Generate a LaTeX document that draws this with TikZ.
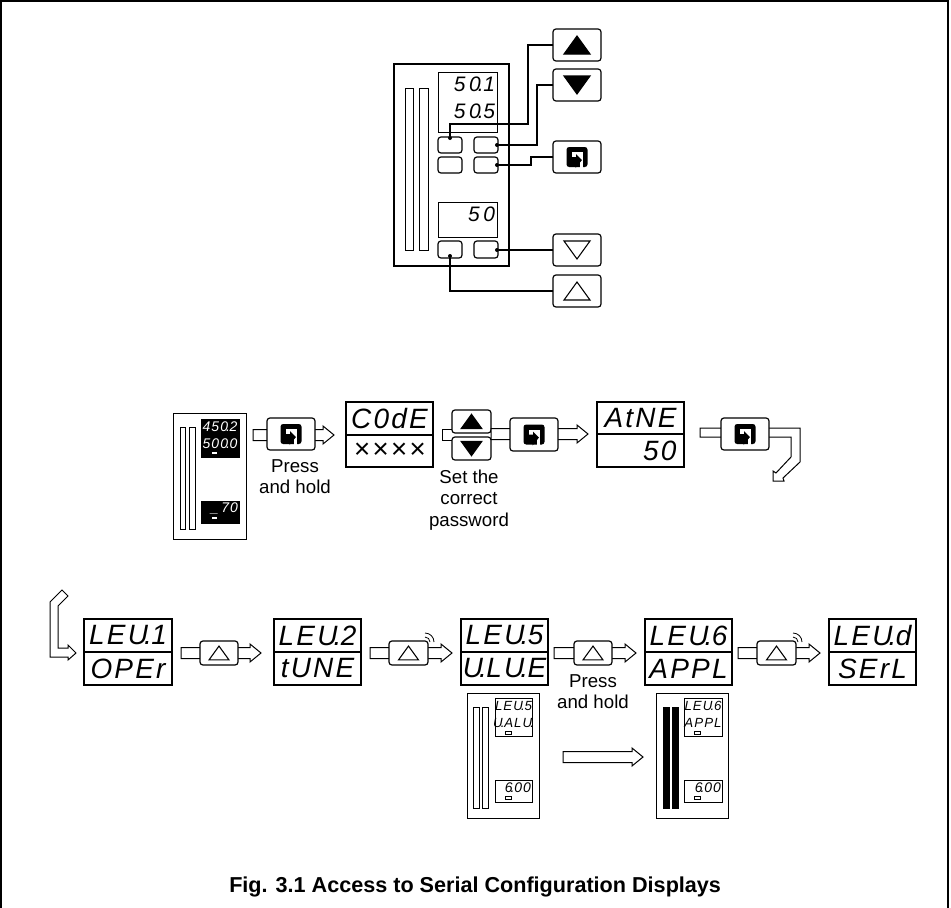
\documentclass[tikz,border=0pt]{standalone}
\usepackage{fontspec}
\setmainfont{Liberation Sans}
\newfontfamily\segf[LetterSpace=8]{Liberation Sans}
\newfontfamily\segw[LetterSpace=17]{Liberation Sans}
\usetikzlibrary{calc}
\newcommand{\dt}{\makebox[0pt]{.}\kern.12em}
% #1 = digit height in px
\newcommand{\sg}[2]{{\pgfmathsetmacro{\fs}{#1*1.0475}\fontsize{\fs pt}{\fs pt}\selectfont\segf\itshape #2}}
\newcommand{\sw}[2]{{\pgfmathsetmacro{\fs}{#1*1.0475}\fontsize{\fs pt}{\fs pt}\selectfont\segw\itshape #2}}
\newcommand{\bx}[6]{\node[#2,minimum width={(#5-#3)*0.75pt},minimum height={(#6-#4)*0.75pt}] (#1) at ({(#3+#5)/2},{(#4+#6)/2}) {};}
\newcommand{\harrow}[4]{% name, x0, x1, y : hollow straight arrow between named ends
  \coordinate (#1s) at (#2,#4);\coordinate (#1t) at (#3,#4);
  \draw[hollow] ($(#1s)+(0,-5.5)$) -- ($(#1t)+(-11,-5.5)$) -- ($(#1t)+(-11,-9)$) -- (#1t) -- ($(#1t)+(-11,9)$) -- ($(#1t)+(-11,5.5)$) -- ($(#1s)+(0,5.5)$) -- cycle;}
\newcommand{\waves}[1]{\coordinate (#1w) at ($(#1.north east)+(-3,1)$);
  \draw[wave] (#1w) ++(5,0) arc[start angle=0,end angle=-90,radius=5];
  \draw[wave] (#1w) ++(9,0) arc[start angle=0,end angle=-90,radius=9];}
\tikzset{
 x=0.75pt,y=-0.75pt,
 keybox/.style={draw,line width=0.9pt,rounded corners=2.2pt,fill=white,inner sep=0pt,outer sep=0pt},
 btn/.style={keybox},
 panel/.style={draw,line width=1.6pt,fill=white,inner sep=0pt,outer sep=0pt},
 minipanel/.style={draw,line width=0.6pt,fill=white,inner sep=0pt,outer sep=0pt},
 bar/.style={draw,line width=0.6pt,fill=white,inner sep=0pt,outer sep=0pt},
 barblack/.style={draw,fill=black,inner sep=0pt,outer sep=0pt},
 lcd/.style={draw,line width=0.6pt,fill=white,inner sep=0pt,outer sep=0pt},
 lcdblack/.style={draw,fill=black,inner sep=0pt,outer sep=0pt},
 disp/.style={draw,line width=1.7pt,fill=white,inner sep=0pt,outer sep=0pt},
 hollow/.style={draw,line width=0.75pt,fill=white,line join=miter},
 wave/.style={line width=0.6pt},
 conn/.style={line width=0.8pt},
 dot/.style={circle,fill=black,inner sep=0pt,minimum size=3pt},
 txt/.style={inner sep=0pt,align=center,font=\fontsize{14pt}{16pt}\selectfont},
 dtxt/.style={inner sep=0pt,outer sep=0pt},
 triblack/.style={draw,line width=0.8pt,fill=black},
 triwhite/.style={draw,line width=0.8pt,fill=white},
 pics/triup/.style={code={\path[pic actions] (-13,9)--(0,-9)--(13,9)--cycle;}},
 pics/tridown/.style={code={\path[pic actions] (-13,-9)--(0,9)--(13,-9)--cycle;}},
 pics/paraicon/.style={code={
   \fill[rounded corners=2pt] (-10.5,-10) rectangle (10.5,10);
   \fill[white] (-5.5,-5) rectangle (5.5,3.5);
   \fill[white] (2.5,3) rectangle (6,10.5);
   \fill (-6,0) -- (-1,0) -- (-1,-3) -- (5,3) -- (-1.5,11) -- (-1.5,6) -- (-6,6) -- cycle;
 }},
}
\newcommand{\dstack}[8]{% name x1 y1 x2 y2 ymid top bottom
  \bx{#1}{disp}{#2}{#3}{#4}{#5}
  \draw[line width=1.7pt] (#1.west |- 0,#6) -- (#1.east |- 0,#6);
  \node[dtxt] (#1a) at ({(#2+#4)/2},{(#3+#6)/2}) {\sg{20}{#7}};
  \node[dtxt] (#1b) at ({(#2+#4)/2},{(#6+#5)/2}) {\sg{20}{#8}};
}
\begin{document}
\begin{tikzpicture}
\useasboundingbox (0,0) rectangle (951,908);
\fill[white] (0,0) rectangle (951,908);
\coordinate (fA) at (1,908);\coordinate (fB) at (1,1);\coordinate (fC) at (948,1);\coordinate (fD) at (948,908);
\draw[line width=0.9pt] (fA) -- (fB) -- (fC) -- (fD);

% ---- top instrument
\bx{pan}{panel}{394}{64}{509}{266}
\bx{barA}{bar}{405}{88}{413}{250}
\bx{barB}{bar}{419}{88}{428}{250}
\bx{lcdU}{lcd}{438}{72}{497}{132}
\bx{lcdL}{lcd}{438}{202}{497}{237}
\bx{bA}{btn}{438}{137}{462}{153}
\bx{bB}{btn}{474}{137}{498}{153}
\bx{bC}{btn}{438}{157}{462}{173}
\bx{bD}{btn}{474}{157}{498}{173}
\bx{bE}{btn}{438}{241}{462}{258}
\bx{bF}{btn}{474}{241}{498}{258}
\node[dtxt,anchor=east] (tA) at (495,84) {\sw{15}{50\dt 1}};
\node[dtxt,anchor=east] (tB) at (495,111) {\sw{15}{50\dt 5}};
\node[dtxt,anchor=east] (tC) at (495,214) {\sw{15}{50}};

\bx{kUp}{keybox}{553}{29}{601}{61}
\bx{kDn}{keybox}{553}{69}{601}{101}
\bx{kPa}{keybox}{553}{141}{601}{173}
\bx{kOd}{keybox}{553}{234}{601}{266}
\bx{kOu}{keybox}{553}{275}{601}{307}
\pic[triblack] at (kUp) {triup};
\pic[triblack] at (kDn) {tridown};
\pic at (kPa) {paraicon};
\pic[triwhite] at (kOd) {tridown};
\pic[triwhite] at (kOu) {triup};

\node[dot] (dA) at (450,138) {};
\node[dot] (dB) at (497,145) {};
\node[dot] (dD) at (497,165) {};
\node[dot] (dF) at (497,250) {};
\node[dot] (dE) at (450,256) {};
\draw[conn] (kUp.west) -- (528,45) -- (528,124) -- (450,124) -- (dA);
\draw[conn] (kDn.west) -- (537,85) -- (537,145) -- (dB);
\draw[conn] (kPa.west) -- (531,157) -- (531,165) -- (dD);
\draw[conn] (kOd.west) -- (dF);
\draw[conn] (kOu.west) -- (450,291) -- (dE);

% ---- second row
\bx{mA}{minipanel}{173}{413}{246}{539}
\bx{mAa}{bar}{180}{427}{185}{529}
\bx{mAb}{bar}{189}{427}{195}{529}
\bx{mAu}{lcdblack}{201}{419}{239}{457}
\bx{mAl}{lcdblack}{201}{501}{239}{523}
\node[dtxt,text=white] (mAt) at (220,427) {\sg{10}{450\dt 2}};
\node[dtxt,text=white] (mAs) at (220,444) {\sg{10}{500\dt 0}};
\node[dtxt,text=white,anchor=east] (mAv) at (238,508) {\sg{10}{\_\hspace{.2em}70}};
\fill[white] (212,452) rectangle (217,454);
\fill[white] (212,517) rectangle (217,519);

\harrow{aA}{253}{334}{435}
\bx{kA}{keybox}{267}{418}{315}{450}
\pic at (kA) {paraicon};
\node[txt] (lA) at (295,476.5) {Press\\and hold};

\dstack{dC}{346}{402}{433}{467}{435}{C0dE}{××××}

\bx{kKu}{keybox}{452}{410}{491}{433}
\bx{kKd}{keybox}{452}{437}{491}{460}
\draw[hollow,fill=none] (kKu.west |- 0,429) -- (442,429) -- (442,440) -- (kKd.west |- 0,440);
\pic[triblack,scale=0.8] at (kKu) {triup};
\pic[triblack,scale=0.8] at (kKd) {tridown};
\node[txt] (lB) at (469,500) {Set the\\correct\\password};

\harrow{aB}{491}{588}{434}
\bx{kB}{keybox}{510}{418}{558}{451}
\pic at (kB) {paraicon};
\dstack{dR}{597}{402}{684}{467}{434}{AtNE}{\makebox[54pt][r]{50}}

\coordinate (bS) at (700,432.5);
\draw[hollow] (bS |- 0,428) -- (800,428) -- (800,462) -- (783,478) -- (784,481) -- (773,481) -- (773,471) -- (776,473) -- (791,457) -- (791,437) -- (bS |- 0,437) -- cycle;
\bx{kC}{keybox}{721}{418}{769}{450}
\pic at (kC) {paraicon};

% ---- third row
\draw[hollow] (50,602) -- (62,590) -- (68,596) -- (58,606) -- (58,648) -- (68,648) -- (68,645) -- (76,653) -- (68,660) -- (68,657) -- (50,657) -- cycle;
\dstack{dD1}{84}{619}{172}{685}{652}{LEU\dt 1}{OPEr}
\dstack{dD2}{274}{619}{361}{685}{652}{LEU\dt 2}{tUNE}
\dstack{dD3}{461}{619}{548}{685}{652}{LEU\dt 5}{U\dt LU\dt E}
\dstack{dD4}{645}{619}{732}{685}{652}{LEU\dt 6}{APPL}
\dstack{dD5}{829}{619}{916}{685}{652}{LEU\dt d}{SErL}

\harrow{cA}{181}{261}{653}
\bx{kD}{keybox}{200}{641}{238}{665}
\pic[triwhite,scale=0.77] at (kD) {triup};
\harrow{cB}{370}{452}{653}
\bx{kE}{keybox}{389}{641}{428}{665}
\pic[triwhite,scale=0.77] at (kE) {triup};
\waves{kE}
\harrow{cC}{554}{636}{653}
\bx{kF}{keybox}{574}{641}{612}{665}
\pic[triwhite,scale=0.77] at (kF) {triup};
\harrow{cD}{738}{820}{653}
\bx{kG}{keybox}{757}{641}{796}{665}
\pic[triwhite,scale=0.77] at (kG) {triup};
\waves{kG}
\node[txt] (lC) at (593,691.5) {Press\\and hold};

% ---- bottom mini instruments
\bx{mB}{minipanel}{467}{693}{539}{818}
\bx{mBa}{bar}{473}{707}{479}{808}
\bx{mBb}{bar}{482}{707}{488}{808}
\bx{mBu}{lcd}{495}{698}{532}{736}
\bx{mBl}{lcd}{495}{780}{532}{802}
\node[dtxt] (mBt) at (513.5,706) {\sg{9.5}{LEU\dt 5}};
\node[dtxt] (mBs) at (513.5,723) {\sg{9.5}{U\dt ALU\dt}};
\node[dtxt,anchor=east] (mBv) at (531,788) {\sg{10}{6\dt 00}};
\draw[line width=0.5pt] (505,731) rectangle (511,734);
\draw[line width=0.5pt] (505,796) rectangle (511,799);

\harrow{eA}{563}{643}{757}

\bx{mC}{minipanel}{656}{693}{728}{818}
\bx{mCa}{barblack}{663}{707}{669}{808}
\bx{mCb}{barblack}{672}{707}{678}{808}
\bx{mCu}{lcd}{684}{698}{722}{736}
\bx{mCl}{lcd}{684}{780}{722}{802}
\node[dtxt] (mCt) at (703,706) {\sg{9.5}{LEU\dt 6}};
\node[dtxt] (mCs) at (703,723) {\sg{9.5}{APPL}};
\node[dtxt,anchor=east] (mCv) at (721,788) {\sg{10}{6\dt 00}};
\draw[line width=0.5pt] (694,731) rectangle (700,734);
\draw[line width=0.5pt] (694,796) rectangle (700,799);

\node[inner sep=0pt,anchor=base west,font=\bfseries\fontsize{16.2pt}{18pt}\selectfont] (cap) at (229,892) {Fig. 3.1 Access to Serial Configuration Displays};
\end{tikzpicture}
\end{document}
